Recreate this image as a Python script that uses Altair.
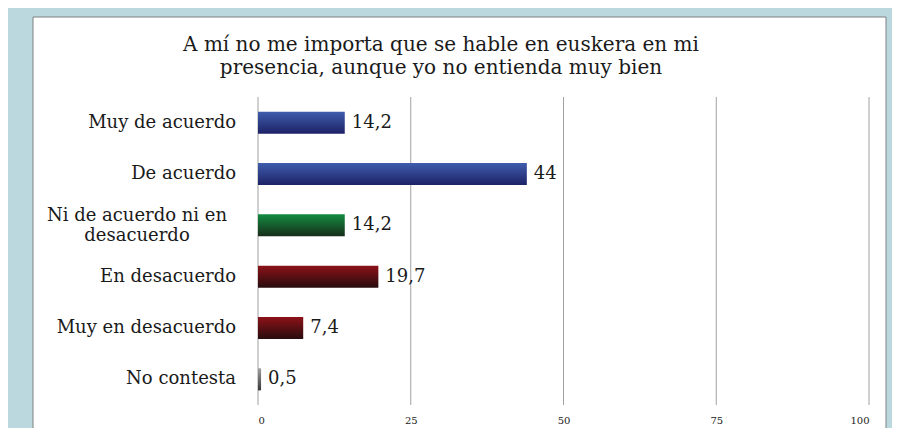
import altair as alt
import pandas as pd

categories = [
    "Muy de acuerdo",
    "De acuerdo",
    "Ni de acuerdo ni en desacuerdo",
    "En desacuerdo",
    "Muy en desacuerdo",
    "No contesta",
]
values = [14.2, 44, 14.2, 19.7, 7.4, 0.5]
x_ticks = [0, 25, 50, 75, 100]
title_text = "A mí no me importa que se hable en euskera en mi|presencia, aunque yo no entienda muy bien"

FONT = "DejaVu Serif"
TXT = "#1a1a1a"

df = pd.DataFrame({"cat": categories, "val": values})
ticks_df = pd.DataFrame({"val": x_ticks})

def grad(top, bottom):
    return alt.Gradient(
        gradient="linear",
        stops=[alt.GradientStop(color=top, offset=0), alt.GradientStop(color=bottom, offset=1)],
        x1=0, x2=0, y1=0, y2=1,
    )

y_enc = alt.Y(
    "cat:N",
    sort=categories,
    axis=None,
    scale=alt.Scale(paddingInner=0.57, paddingOuter=0.285),
)
x_scale = alt.Scale(domain=[0, 100], nice=False)
x_axis = alt.Axis(
    values=x_ticks,
    grid=False,
    domain=False,
    ticks=False,
    labelFont=FONT,
    labelFontSize=10,
    labelPadding=10,
    labelColor=TXT,
    title=None,
    zindex=1,
)
x_enc = alt.X("val:Q", scale=x_scale, axis=x_axis)

base = alt.Chart(df)

panel = alt.Chart(pd.DataFrame({"k": [0]})).mark_rect(
    fill="white", stroke="#808080", strokeWidth=1
).encode(
    x=alt.value(-225), x2=alt.value(628), y=alt.value(-80), y2=alt.value(345)
)

grid = alt.Chart(ticks_df).mark_rule(color="#A0A0A0", strokeWidth=1).encode(
    x=x_enc
)

groups = [
    (categories[0:2], "#3F5DAD", "#1D2266"),
    (categories[2:3], "#138C42", "#172C18"),
    (categories[3:5], "#8C1218", "#280C0E"),
    (categories[5:6], "#A0A0A0", "#383838"),
]
bars = []
for cats, top, bottom in groups:
    bars.append(
        base.transform_filter(alt.FieldOneOfPredicate(field="cat", oneOf=cats))
        .mark_bar(color=grad(top, bottom))
        .encode(x=x_enc, y=y_enc)
    )

value_text = base.transform_calculate(
    lab="replace(toString(datum.val), '.', ',')"
).mark_text(
    align="left", baseline="middle", dx=7, font=FONT, fontSize=18, color=TXT
).encode(x=x_enc, y=y_enc, text="lab:N")

single = [c for c in categories if len(c) <= 20]
multi = [c for c in categories if len(c) > 20]

cat_text = base.transform_filter(
    alt.FieldOneOfPredicate(field="cat", oneOf=single)
).mark_text(
    align="right", baseline="middle", font=FONT, fontSize=18, color=TXT
).encode(x=alt.value(-22), y=y_enc, text="cat:N")

cat_text2 = base.transform_filter(
    alt.FieldOneOfPredicate(field="cat", oneOf=multi)
).transform_calculate(
    lab="replace(datum.cat, 'ni en ', 'ni en|')"
).mark_text(
    align="center", baseline="middle", font=FONT, fontSize=18, color=TXT,
    lineBreak="|", lineHeight=20, dy=-9
).encode(x=alt.value(-121), y=y_enc, text="lab:N")

title = alt.Chart(pd.DataFrame({"t": [title_text]})).mark_text(
    align="center", baseline="middle", font=FONT, fontSize=20, color=TXT,
    lineBreak="|", lineHeight=23
).encode(x=alt.value(183), y=alt.value(-52), text="t:N")

chart = alt.layer(panel, grid, *bars, value_text, cat_text, cat_text2, title).properties(
    width=611,
    height=308,
    autosize=alt.AutoSizeParams(type="none"),
    padding={"left": 250, "top": 89, "right": 23, "bottom": 23},
    background="#BAD8DD",
).configure_view(stroke=None)

chart.save("out.html", embed_options={"renderer": "svg", "actions": False})
